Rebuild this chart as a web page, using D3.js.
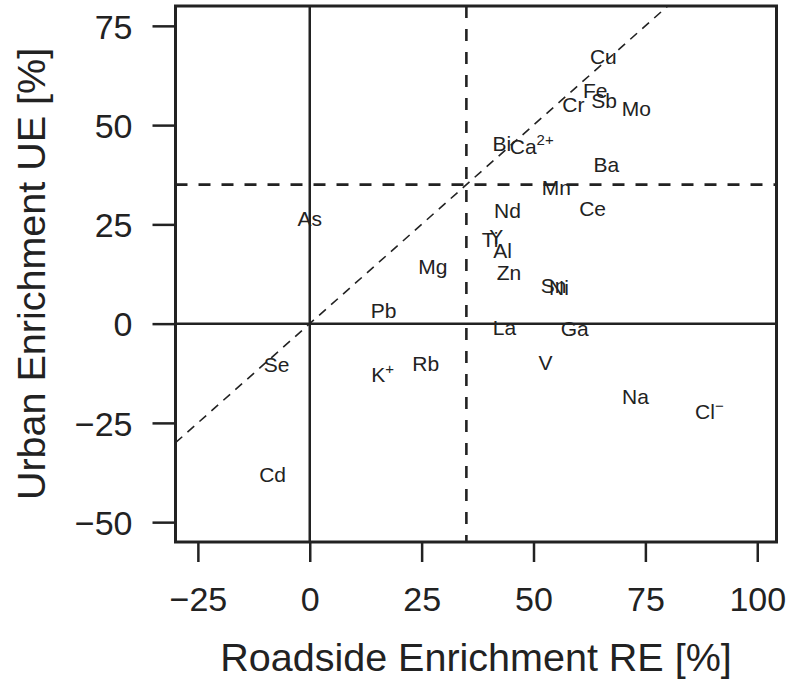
<!DOCTYPE html>
<html>
<head>
<meta charset="utf-8">
<script src="https://cdn.jsdelivr.net/npm/d3@7"></script>
<style>
  html, body { margin: 0; padding: 0; background: #fff; }
  svg { display: block; font-family: "Liberation Sans", Arial, Helvetica, sans-serif; }
</style>
</head>
<body>
<svg id="chart" width="788" height="681"></svg>
<script>
// Element labels with roadside (RE) and urban (UE) enrichment, in %
const elements = ["Cu", "Fe", "Sb", "Cr", "Mo", "Bi", "Ca", "Ba", "Mn", "Nd", "Ce",
                  "Ti", "Y", "Al", "Zn", "Sn", "Ni", "La", "Ga", "V", "Na", "Cl",
                  "As", "Mg", "Pb", "Se", "K", "Rb", "Cd"];
const charges  = ["", "", "", "", "", "", "2+", "", "", "", "",
                  "", "", "", "", "", "", "", "", "", "", "−",
                  "", "", "", "", "+", "", ""];
const roadside = [65.6, 63.8, 65.8, 58.9, 73.0, 42.9, 49.6, 66.3, 55.1, 44.2, 63.2,
                  40.3, 41.7, 43.1, 44.5, 54.5, 55.7, 43.5, 59.2, 52.7, 72.8, 89.3,
                  0.0, 27.5, 16.5, -7.4, 16.3, 25.9, -8.3];
const urban    = [67.4, 58.7, 56.1, 55.1, 54.3, 45.5, 44.7, 40.2, 34.2, 28.4, 29.1,
                  21.3, 22.0, 18.5, 13.0, 9.7, 9.1, -0.9, -1.1, -9.7, -18.3, -22.1,
                  26.6, 14.3, 3.4, -10.4, -12.9, -10.1, -37.9];

const xTicks = [-25, 0, 25, 50, 75, 100];
const yTicks = [-50, -25, 0, 25, 50, 75];
const threshold = 35;   // enrichment cut-off drawn on both axes
const xLabel = "Roadside Enrichment RE [%]";
const yLabel = "Urban Enrichment UE [%]";

const ink = "#222";
const svg = d3.select("#chart");

const x = d3.scaleLinear().domain([-30, 104.3]).range([175.5, 776.5]);
const y = d3.scaleLinear().domain([-55, 80]).range([542, 6]);
const [x0, x1] = x.range();
const [y1, y0] = y.range();

svg.append("defs").append("clipPath").attr("id", "plot-clip")
  .append("rect").attr("x", x0).attr("y", y0).attr("width", x1 - x0).attr("height", y1 - y0);

const plot = svg.append("g").attr("clip-path", "url(#plot-clip)");

// 1:1 reference line
const xd = x.domain();
plot.append("line")
  .attr("x1", x(xd[0])).attr("y1", y(xd[0]))
  .attr("x2", x(xd[1])).attr("y2", y(xd[1]))
  .attr("stroke", ink).attr("stroke-width", 1.6).attr("stroke-dasharray", "9 7");

// zero lines
plot.append("line").attr("x1", x0).attr("x2", x1).attr("y1", y(0)).attr("y2", y(0))
  .attr("stroke", ink).attr("stroke-width", 2.5);
plot.append("line").attr("x1", x(0)).attr("x2", x(0)).attr("y1", y0).attr("y2", y1)
  .attr("stroke", ink).attr("stroke-width", 2.5);

// threshold lines
plot.append("line").attr("x1", x0).attr("x2", x1).attr("y1", y(threshold)).attr("y2", y(threshold))
  .attr("stroke", ink).attr("stroke-width", 2.6).attr("stroke-dasharray", "12 11");
plot.append("line").attr("x1", x(threshold)).attr("x2", x(threshold)).attr("y1", y0).attr("y2", y1)
  .attr("stroke", ink).attr("stroke-width", 2.6).attr("stroke-dasharray", "12 11");

// element labels
const rows = elements.map((e, i) => ({ name: e, charge: charges[i], re: roadside[i], ue: urban[i] }));
const labels = svg.append("g").attr("font-size", 21).attr("fill", ink).attr("text-anchor", "middle");
rows.forEach(d => {
  const t = labels.append("text")
    .attr("x", x(d.re)).attr("y", y(d.ue)).attr("dy", "0.36em");
  t.append("tspan").text(d.name);
  if (d.charge) {
    t.append("tspan").attr("font-size", 15).attr("dy", "-0.55em").text(d.charge);
  }
});

// axes
const xAxis = svg.append("g").attr("transform", `translate(0,${y1})`)
  .call(d3.axisBottom(x).tickValues(xTicks).tickSize(20).tickPadding(25)
    .tickFormat(d => d < 0 ? "−" + Math.abs(d) : d));
const yAxis = svg.append("g").attr("transform", `translate(${x0},0)`)
  .call(d3.axisLeft(y).tickValues(yTicks).tickSize(23).tickPadding(20)
    .tickFormat(d => d < 0 ? "−" + Math.abs(d) : d));
[xAxis, yAxis].forEach(g => {
  g.select(".domain").remove();
  g.selectAll(".tick line").attr("stroke", ink).attr("stroke-width", 2.5);
  g.selectAll(".tick text").attr("fill", ink).attr("font-size", 34)
    .attr("font-family", "\"Liberation Sans\", Arial, sans-serif");
});
xAxis.selectAll(".tick text").attr("dy", "0.72em");
yAxis.selectAll(".tick text").attr("dy", "0.36em");

// frame
svg.append("rect").attr("x", x0).attr("y", y0).attr("width", x1 - x0).attr("height", y1 - y0)
  .attr("fill", "none").attr("stroke", ink).attr("stroke-width", 3);

// axis titles
svg.append("text").attr("x", (x0 + x1) / 2).attr("y", 671)
  .attr("text-anchor", "middle").attr("font-size", 39.5).attr("fill", ink).text(xLabel);
svg.append("text").attr("transform", `translate(45,${(y0 + y1) / 2}) rotate(-90)`)
  .attr("text-anchor", "middle").attr("font-size", 39.5).attr("fill", ink).text(yLabel);
</script>
</body>
</html>
